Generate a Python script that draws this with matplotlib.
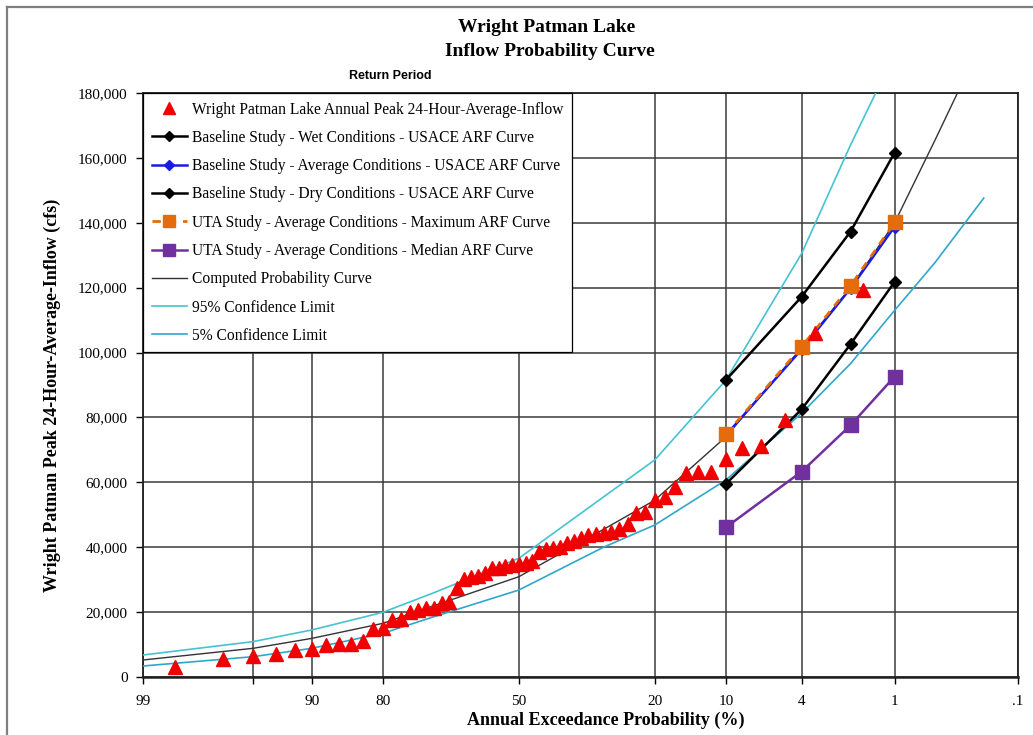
import numpy as np
import matplotlib
matplotlib.use('Agg')
import matplotlib.pyplot as plt
from matplotlib.lines import Line2D
from matplotlib.ticker import FixedLocator, FuncFormatter, NullLocator
from statistics import NormalDist

# ---------------- data ----------------
# annual peak 24-hour-average inflow (cfs), ascending
peak_values = [2990, 5650, 6580, 7090, 8320, 8530, 9760, 10170, 10170, 11200,
               14700, 15000, 17570, 17880, 20130, 20650, 21360, 21360, 22900, 23200,
               27340, 30100, 30900, 31100, 32150, 33500, 33700, 34200, 34500, 34800,
               35000, 35800, 38600, 39400, 39700, 40200, 41200, 42000, 42700, 43800,
               44000, 44500, 44800, 45500, 47200, 50600, 50900, 54600, 55400, 58500,
               62800, 63100, 63300, 67200, 70500, 71300, 79200, 106100, 119300]

study_prob = [10, 4, 2, 1]
wet_baseline = [91500, 117200, 137300, 161600]
avg_baseline = [74500, 101000, 119800, 138800]
dry_baseline = [59500, 82500, 102600, 121800]
uta_max = [74800, 101800, 120600, 140100]
uta_median = [46100, 63300, 77600, 92600]

comp_prob = [99, 95, 90, 80, 70, 50, 30, 20, 10, 4, 2, 1, 0.5, 0.2]
comp_vals = [5240, 8840, 11900, 16540, 22000, 30900, 45500, 54500, 74000, 101500,
             120000, 140000, 165400, 197000]

upper_prob = [99, 95, 90, 80, 70, 50, 30, 20, 10, 4, 2, 1]
upper_vals = [6780, 10900, 14500, 19930, 26000, 36600, 55500, 66900, 91500, 130500,
              164000, 192000]

lower_prob = [99, 95, 90, 80, 70, 50, 30, 20, 10, 4, 2, 1, 0.5, 0.2]
lower_vals = [3390, 6260, 8840, 13460, 18600, 26800, 40000, 46850, 60700, 81300,
              96600, 113000, 127700, 147600]

xtick_pos = [99, 95, 90, 80, 50, 20, 10, 4, 1, 0.1]
xtick_lab = ['99', '', '90', '80', '50', '20', '10', '4', '1', '.1']
ytick_pos = list(range(0, 180001, 20000))

# Weibull plotting positions for the annual peaks
n = len(peak_values)
peak_prob = [100.0 * (n + 1 - i) / (n + 1) for i in range(1, n + 1)]

# ---------------- probability scale (increasing in p, axis inverted) ----------------
_nd = NormalDist()
_ppf = np.vectorize(lambda v: _nd.inv_cdf(v / 100.0), otypes=[float])
_cdf = np.vectorize(lambda z: 100.0 * _nd.cdf(z), otypes=[float])


def fwd(p):
    p = np.clip(np.asarray(p, dtype=float), 1e-9, 100 - 1e-9)
    return _ppf(p)


def inv(z):
    return _cdf(np.asarray(z, dtype=float))


SERIF = ['Liberation Serif', 'DejaVu Serif']
plt.rcParams['font.family'] = SERIF

fig = plt.figure(figsize=(10.33, 7.35), dpi=100)
ax = fig.add_axes([143 / 1033, 1 - 677 / 735, (1018 - 143) / 1033, (677 - 93) / 735])
ax.set_xscale('function', functions=(fwd, inv))

# curves
ax.plot(comp_prob, comp_vals, color='#333333', lw=1.0, zorder=3, label='Computed Probability Curve')
ax.plot(upper_prob, upper_vals, color='#45C3D3', lw=1.2, zorder=3, label='95% Confidence Limit')
ax.plot(lower_prob, lower_vals, color='#2FA7CC', lw=1.2, zorder=3, label='5% Confidence Limit')

ax.plot(study_prob, wet_baseline, color='black', lw=1.8, marker='D', ms=6.5, zorder=4,
        label='Baseline Study - Wet Conditions - USACE ARF Curve')
ax.plot(study_prob, avg_baseline, color='#1A1AE6', lw=1.8, marker='D', ms=6.5, zorder=4,
        label='Baseline Study - Average Conditions - USACE ARF Curve')
ax.plot(study_prob, dry_baseline, color='black', lw=1.8, marker='D', ms=6.5, zorder=4,
        label='Baseline Study - Dry Conditions - USACE ARF Curve')
ax.plot(study_prob, uta_max, color='#E46C0A', lw=2.0, ls=(0, (3, 2.5)), marker='s', ms=10,
        zorder=5, label='UTA Study - Average Conditions - Maximum ARF Curve')
ax.plot(study_prob, uta_median, color='#7030A0', lw=1.8, marker='s', ms=10, zorder=4,
        label='UTA Study - Average Conditions - Median ARF Curve')
ax.plot(peak_prob, peak_values, ls='none', marker='^', ms=9.5, color='#F00000', zorder=6,
        label='Wright Patman Lake Annual Peak 24-Hour-Average-Inflow')

ax.set_xlim(99, 0.1)
ax.set_ylim(0, 180000)
ax.xaxis.set_major_locator(FixedLocator(xtick_pos))
ax.xaxis.set_minor_locator(NullLocator())
ax.set_xticklabels(xtick_lab)
ax.yaxis.set_major_locator(FixedLocator(ytick_pos))
ax.yaxis.set_major_formatter(FuncFormatter(lambda v, _: f'{int(v):,}'))
ax.tick_params(axis='both', direction='out', length=5, width=1, labelsize=11, pad=6, colors='black')
ax.tick_params(axis='x', pad=8)
ax.grid(True, color='#3a3a3a', lw=1.1, zorder=1)
ax.set_axisbelow(True)
for s in ax.spines.values():
    s.set_color('#202020')
    s.set_linewidth(1.3)
ax.spines['bottom'].set_linewidth(1.8)

# legend
h, l = ax.get_legend_handles_labels()
order = [8, 3, 4, 5, 6, 7, 0, 1, 2]
leg = ax.legend([h[i] for i in order], [l[i] for i in order], loc='upper left',
                bbox_to_anchor=(0, 1), borderaxespad=0, fancybox=False, framealpha=1,
                edgecolor='black', fontsize=11.2, labelspacing=0.79, handlelength=2.3,
                handletextpad=0.3, borderpad=0.55, numpoints=1, markerscale=0.85)
leg.get_frame().set_linewidth(0.9)
leg.set_zorder(10)

# titles and labels
fig.text(547 / 1033, 1 - 27 / 735, 'Wright Patman Lake', ha='center', va='center',
         fontsize=14, fontweight='bold')
fig.text(550 / 1033, 1 - 52 / 735, 'Inflow Probability Curve', ha='center', va='center',
         fontsize=14, fontweight='bold')
fig.text(390 / 1033, 1 - 76 / 735, 'Return Period', ha='center', va='center',
         fontsize=9, fontweight='bold', family=['Liberation Sans', 'DejaVu Sans'])
fig.text(606 / 1033, 1 - 720 / 735, 'Annual Exceedance Probability (%)', ha='center',
         va='center', fontsize=13, fontweight='bold')
fig.text(52 / 1033, 1 - 395 / 735, 'Wright Patman Peak 24-Hour-Average-Inflow (cfs)',
         ha='center', va='center', rotation=90, fontsize=13, fontweight='bold')

# outer chart border (left and top visible)
fig.add_artist(Line2D([7 / 1033, 7 / 1033], [0, 1 - 7 / 735], color='#7f7f7f', lw=1.6))
fig.add_artist(Line2D([7 / 1033, 1], [1 - 7 / 735, 1 - 7 / 735], color='#7f7f7f', lw=1.6))

fig.savefig('out.png', dpi=100)
